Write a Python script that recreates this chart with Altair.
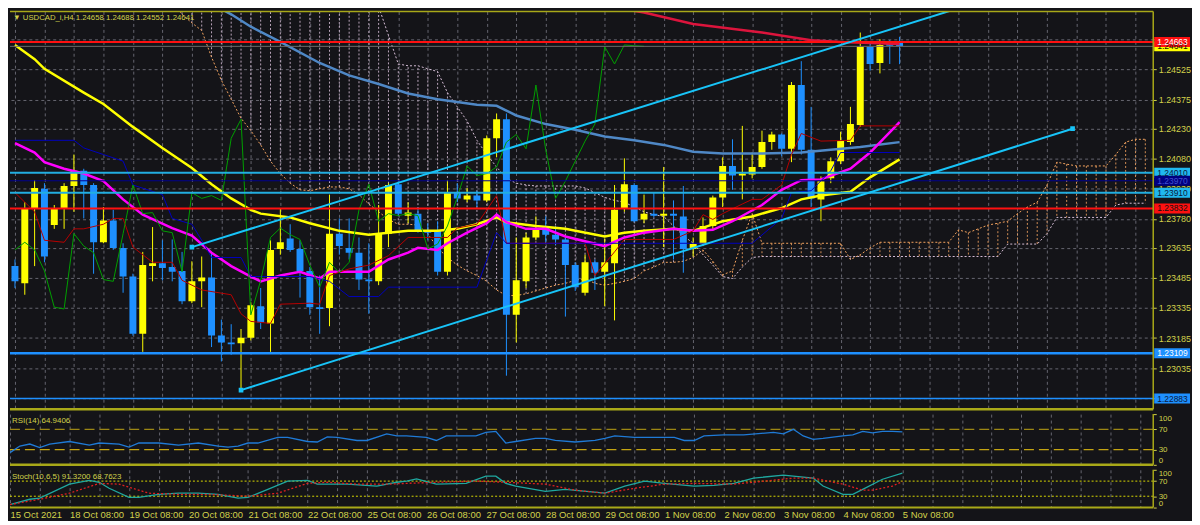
import json
import pandas as pd
import altair as alt

# ---------------- styling ----------------
BG = "#141418"
GRID = "#666670"
BORDER = "#a8a818"
TXT = "#d2d24b"
BULL = "#ffff00"
BEAR = "#1e90ff"
SANDY = "#f4a460"
THISTLE = "#d8bfd8"
CYAN_T = "#18c4f8"
CYAN_H = "#22aee0"
FONT = "Liberation Sans"

W = 1150
H_MAIN = 400
H_RSI = 51
H_ST = 38
X_MAX = 115.3

# ---------------- data ----------------
title_text = "\u25bc USDCAD_i,H4  1.24658 1.24688 1.24552 1.24641"
date_labels = ["15 Oct 2021", "18 Oct 08:00", "19 Oct 08:00", "20 Oct 08:00", "21 Oct 08:00",
               "22 Oct 08:00", "25 Oct 08:00", "26 Oct 08:00", "27 Oct 08:00", "28 Oct 08:00",
               "29 Oct 08:00", "1 Nov 08:00", "2 Nov 08:00", "3 Nov 08:00", "4 Nov 08:00", "5 Nov 08:00"]
price_ticks = [1.24675, 1.24525, 1.24375, 1.24230, 1.24080, 1.23930, 1.23780, 1.23635,
               1.23485, 1.23335, 1.23185, 1.23035, 1.22885]
hidden_tick_labels = [1.24675, 1.22885]   # covered by the line-label boxes in the original

bar_index = list(range(91))
opens = [1.23544, 1.23458, 1.23830, 1.23930, 1.23749, 1.23834, 1.23944, 1.24020, 1.23949, 1.23663,
         1.23772, 1.23635, 1.23492, 1.23206, 1.23544, 1.23558, 1.23539, 1.23520, 1.23368, 1.23468,
         1.23487, 1.23197, 1.23163, 1.23159, 1.23187, 1.23344, 1.23258, 1.23630, 1.23682, 1.23630,
         1.23520, 1.23339, 1.23335, 1.23706, 1.23635, 1.23611, 1.23477, 1.23468, 1.23706, 1.23953,
         1.23796, 1.23806, 1.23720, 1.23720, 1.23516, 1.23911, 1.23877, 1.23896, 1.23872, 1.24182,
         1.24277, 1.23301, 1.23468, 1.23687, 1.23739, 1.23701, 1.23677, 1.23549, 1.23411, 1.23563,
         1.23516, 1.23558, 1.23834, 1.23949, 1.23777, 1.23806, 1.23796, 1.23806, 1.23792, 1.23630,
         1.23654, 1.23744, 1.23887, 1.24044, 1.23996, 1.24001, 1.24039, 1.24163, 1.24201, 1.24130,
         1.24448, 1.24125, 1.23877, 1.23982, 1.24068, 1.24163, 1.24249, 1.24639, 1.24558, 1.24653,
         1.24658]
highs = [1.23577, 1.23863, 1.23973, 1.23958, 1.23849, 1.23958, 1.24101, 1.24030, 1.23958, 1.23839,
         1.23825, 1.23658, 1.23506, 1.23615, 1.23739, 1.23673, 1.23677, 1.23615, 1.23568, 1.23592,
         1.23611, 1.23277, 1.23254, 1.23230, 1.23363, 1.23435, 1.23673, 1.23830, 1.23753, 1.23673,
         1.23539, 1.23497, 1.23901, 1.23782, 1.23782, 1.23687, 1.23658, 1.23849, 1.23958, 1.23968,
         1.23863, 1.23839, 1.23758, 1.23768, 1.23973, 1.23958, 1.23934, 1.23920, 1.24196, 1.24306,
         1.24306, 1.23687, 1.23711, 1.23792, 1.23792, 1.23744, 1.23687, 1.23563, 1.23601, 1.23577,
         1.23682, 1.23949, 1.24082, 1.23958, 1.23901, 1.23911, 1.24039, 1.23872, 1.23944, 1.23687,
         1.23787, 1.23896, 1.24087, 1.24177, 1.24244, 1.24111, 1.24220, 1.24215, 1.24206, 1.24463,
         1.24567, 1.24339, 1.23992, 1.24087, 1.24215, 1.24339, 1.24710, 1.24663, 1.24677, 1.24672,
         1.24688]
lows = [1.23435, 1.23401, 1.23544, 1.23563, 1.23730, 1.23730, 1.23815, 1.23782, 1.23506, 1.23658,
        1.23625, 1.23411, 1.23197, 1.23116, 1.23468, 1.23473, 1.23468, 1.23354, 1.23359, 1.23339,
        1.23140, 1.23068, 1.23101, 1.22925, 1.23173, 1.23230, 1.23116, 1.23601, 1.23615, 1.23387,
        1.23301, 1.23206, 1.23244, 1.23601, 1.23577, 1.23425, 1.23306, 1.23449, 1.23639, 1.23796,
        1.23758, 1.23711, 1.23673, 1.23497, 1.23497, 1.23863, 1.23863, 1.23839, 1.23863, 1.24087,
        1.22997, 1.23163, 1.23435, 1.23673, 1.23663, 1.23649, 1.23292, 1.23420, 1.23397, 1.23425,
        1.23344, 1.23273, 1.23815, 1.23763, 1.23758, 1.23787, 1.23639, 1.23577, 1.23511, 1.23592,
        1.23644, 1.23730, 1.23839, 1.23925, 1.23877, 1.23982, 1.24030, 1.24125, 1.24092, 1.24063,
        1.24101, 1.23839, 1.23768, 1.23958, 1.24053, 1.24149, 1.24239, 1.24520, 1.24506, 1.24553,
        1.24552]
closes = [1.23468, 1.23830, 1.23934, 1.23592, 1.23830, 1.23944, 1.24020, 1.23949, 1.23663, 1.23772,
          1.23635, 1.23492, 1.23206, 1.23549, 1.23558, 1.23535, 1.23516, 1.23368, 1.23468, 1.23487,
          1.23197, 1.23163, 1.23154, 1.23187, 1.23349, 1.23263, 1.23625, 1.23663, 1.23625, 1.23520,
          1.23339, 1.23330, 1.23706, 1.23644, 1.23611, 1.23477, 1.23468, 1.23706, 1.23949, 1.23806,
          1.23811, 1.23720, 1.23711, 1.23516, 1.23911, 1.23882, 1.23896, 1.23872, 1.24182, 1.24277,
          1.23301, 1.23473, 1.23687, 1.23734, 1.23701, 1.23677, 1.23549, 1.23439, 1.23563, 1.23511,
          1.23563, 1.23825, 1.23953, 1.23768, 1.23806, 1.23796, 1.23806, 1.23796, 1.23630, 1.23654,
          1.23744, 1.23887, 1.24044, 1.23996, 1.24006, 1.24039, 1.24163, 1.24201, 1.24130, 1.24448,
          1.24125, 1.23882, 1.23968, 1.24068, 1.24168, 1.24253, 1.24639, 1.24553, 1.24648, 1.24644,
          1.24641]

# moving averages (bar index, price)
yellow_i = [0, 2, 3, 7, 9, 12, 15, 18, 20, 22, 24, 25, 28, 30, 33, 36, 38, 40, 43, 45,
            47, 49, 50, 53, 56, 60, 62, 64, 67, 69, 72, 75, 78, 80, 82, 85, 87, 90]
yellow_v = [1.24648, 1.24577, 1.24529, 1.24410, 1.24353, 1.24239, 1.24134, 1.24034, 1.23953, 1.23882,
            1.23825, 1.23806, 1.23787, 1.23758, 1.23720, 1.23701, 1.23711, 1.23720, 1.23720, 1.23730,
            1.23753, 1.23787, 1.23763, 1.23744, 1.23730, 1.23692, 1.23711, 1.23720, 1.23730, 1.23720,
            1.23768, 1.23792, 1.23834, 1.23877, 1.23896, 1.23915, 1.23987, 1.24077]
magenta_i = [0, 2, 3, 5, 7, 9, 11, 13, 16, 18, 20, 22, 24, 25, 27, 29, 31, 32, 36, 38,
             40, 41, 43, 44, 46, 48, 49, 50, 52, 54, 56, 60, 62, 64, 67, 69, 71, 73, 76, 78,
             80, 82, 85, 87, 90]
magenta_v = [1.24158, 1.24111, 1.24063, 1.24030, 1.24006, 1.23968, 1.23877, 1.23801, 1.23734, 1.23696,
             1.23611, 1.23544, 1.23492, 1.23468, 1.23497, 1.23516, 1.23482, 1.23516, 1.23516, 1.23577,
             1.23611, 1.23635, 1.23625, 1.23658, 1.23711, 1.23758, 1.23801, 1.23763, 1.23730, 1.23730,
             1.23692, 1.23644, 1.23687, 1.23711, 1.23730, 1.23720, 1.23725, 1.23768, 1.23849, 1.23925,
             1.23973, 1.23977, 1.24030, 1.24111, 1.24263]
steel_i = [20, 22, 24, 27, 31, 34, 37, 40, 43, 47, 49, 51, 54, 57, 60, 63, 66, 69, 72, 76, 80, 83, 86, 90]
steel_v = [1.24853, 1.24801, 1.24739, 1.24663, 1.24558, 1.24496, 1.24453, 1.24406, 1.24377, 1.24349,
           1.24344, 1.24296, 1.24253, 1.24225, 1.24191, 1.24172, 1.24149, 1.24115, 1.24106, 1.24106,
           1.24111, 1.24125, 1.24139, 1.24163]
redma_i = [61, 64, 69, 76, 81, 84, 90]
redma_v = [1.24834, 1.24810, 1.24753, 1.24710, 1.24672, 1.24663, 1.24653]

# Ichimoku
tenkan_i = [0, 1, 2, 3, 5, 6, 7, 9, 10, 11, 12, 14, 16, 17, 19, 22, 23, 24, 26, 27,
            30, 31, 32, 34, 36, 38, 40, 44, 45, 47, 49, 50, 58, 59, 61, 62, 67, 69, 70, 71,
            72, 74, 75, 76, 78, 79, 80, 82, 85, 86, 90]
tenkan_v = [1.23911, 1.23863, 1.23815, 1.23673, 1.23663, 1.23730, 1.23730, 1.23753, 1.23782, 1.23782,
            1.23639, 1.23563, 1.23563, 1.23473, 1.23425, 1.23401, 1.23306, 1.23268, 1.23258, 1.23354,
            1.23359, 1.23354, 1.23497, 1.23530, 1.23549, 1.23596, 1.23687, 1.23687, 1.23734, 1.23753,
            1.23896, 1.23658, 1.23658, 1.23497, 1.23615, 1.23677, 1.23677, 1.23720, 1.23801, 1.23777,
            1.23806, 1.23854, 1.23877, 1.23877, 1.23949, 1.24101, 1.24206, 1.24168, 1.24172, 1.24244,
            1.24244]
kijun_i = [0, 6, 7, 9, 11, 12, 15, 16, 18, 19, 20, 23, 24, 30, 32, 34, 37, 38, 47, 49,
           50, 75, 78, 79, 81, 83, 84, 90]
kijun_v = [1.24172, 1.24172, 1.24134, 1.24101, 1.24068, 1.23949, 1.23901, 1.23782, 1.23753, 1.23673,
           1.23587, 1.23587, 1.23492, 1.23492, 1.23468, 1.23392, 1.23392, 1.23439, 1.23439, 1.23711,
           1.23658, 1.23658, 1.23782, 1.23911, 1.23920, 1.24020, 1.24111, 1.24111]
cloud_i = list(range(16, 116))
span_a = [1.24863, 1.24801, 1.24758, 1.24720, 1.24587, 1.24472, 1.24377, 1.24282, 1.24220, 1.24149,
          1.24068, 1.24006, 1.23958, 1.23925, 1.23920, 1.23930, 1.23939, 1.23939, 1.23930, 1.23901,
          1.23854, 1.23815, 1.23777, 1.23753, 1.23753, 1.23749, 1.23706, 1.23635, 1.23587, 1.23549,
          1.23520, 1.23497, 1.23468, 1.23425, 1.23397, 1.23397, 1.23406, 1.23420, 1.23435, 1.23449,
          1.23458, 1.23473, 1.23482, 1.23458, 1.23449, 1.23458, 1.23468, 1.23482, 1.23520, 1.23539,
          1.23563, 1.23563, 1.23568, 1.23587, 1.23625, 1.23568, 1.23501, 1.23520, 1.23673, 1.23806,
          1.23658, 1.23658, 1.23658, 1.23658, 1.23658, 1.23658, 1.23658, 1.23658, 1.23658, 1.23577,
          1.23601, 1.23635, 1.23663, 1.23663, 1.23663, 1.23663, 1.23663, 1.23663, 1.23663, 1.23663,
          1.23725, 1.23711, 1.23730, 1.23749, 1.23758, 1.23768, 1.23806, 1.23839, 1.23863, 1.23949,
          1.24063, 1.24053, 1.24044, 1.24044, 1.24044, 1.24044, 1.24101, 1.24163, 1.24177, 1.24177]
span_b = [1.24910, 1.24910, 1.24910, 1.24910, 1.24910, 1.24910, 1.24910, 1.24910, 1.24910, 1.24910,
          1.24910, 1.24910, 1.24910, 1.24910, 1.24910, 1.24910, 1.24910, 1.24910, 1.24910, 1.24910,
          1.24910, 1.24839, 1.24696, 1.24553, 1.24544, 1.24544, 1.24529, 1.24515, 1.24410, 1.24339,
          1.24268, 1.24172, 1.24101, 1.24039, 1.23982, 1.23958, 1.23949, 1.23944, 1.23944, 1.23944,
          1.23944, 1.23944, 1.23934, 1.23911, 1.23887, 1.23872, 1.23863, 1.23839, 1.23815, 1.23801,
          1.23792, 1.23744, 1.23696, 1.23658, 1.23601, 1.23549, 1.23492, 1.23482, 1.23539, 1.23587,
          1.23592, 1.23592, 1.23592, 1.23592, 1.23592, 1.23592, 1.23592, 1.23592, 1.23592, 1.23592,
          1.23592, 1.23592, 1.23592, 1.23592, 1.23592, 1.23592, 1.23592, 1.23592, 1.23592, 1.23592,
          1.23592, 1.23592, 1.23592, 1.23592, 1.23592, 1.23654, 1.23654, 1.23654, 1.23654, 1.23706,
          1.23787, 1.23787, 1.23787, 1.23787, 1.23787, 1.23787, 1.23849, 1.23858, 1.23858, 1.23858]
CHIKOU_SHIFT = 26

# objects: horizontal levels, trend lines
hl_price = [1.24663, 1.24641, 1.24010, 1.23970, 1.23910, 1.23832, 1.23109, 1.22883]
hl_color = ["#ff1010", "#6c6c6c", CYAN_H, "#000090", CYAN_H, "#ff1010", "#1e90ff", "#1e90ff"]
hl_width = [2, 1, 2, 1, 2, 2, 2.5, 1.5]
lab_price = [1.24641, 1.24663, 1.24010, 1.23970, 1.23910, 1.23832, 1.23109, 1.22883]
lab_box = ["#ffff00", "#ff1010", "#20b8ee", "#000080", "#20b8ee", "#ff1010", "#1e90ff", "#1e90ff"]
lab_tc = ["#101010", "#ffffff", "#0a1a40", "#4050d0", "#0a1a40", "#101010", "#ffffff", "#0a1a40"]
trend_id = ["lower", "lower", "upper", "upper"]
trend_i = [23, 107.6, 18, 98]
trend_p = [1.22925, 1.24230, 1.23639, 1.24862]
anchor_i = [23, 107.6, 18]
anchor_p = [1.22925, 1.24230, 1.23639]

# oscillators
rsi_i = [0, 1, 2, 3, 4, 6, 8, 9, 11, 12, 13, 15, 17, 19, 21, 22, 23, 24, 25, 27, 28, 30, 31, 32, 33,
         35, 36, 38, 39, 40, 42, 43, 44, 47, 48, 49, 50, 51, 53, 54, 55, 57, 59, 60, 61, 63, 67, 68,
         69, 70, 72, 74, 77, 78, 79, 80, 81, 82, 84, 85, 86, 87, 88, 89, 90]
rsi_v = [24, 37, 41, 34, 41, 46, 39, 43, 41, 35, 43, 43, 39, 43, 37, 35, 37, 43, 43, 54, 54, 46, 45, 55, 54,
         48, 48, 61, 57, 57, 54, 48, 57, 57, 64, 66, 43, 46, 52, 52, 48, 45, 48, 52, 57, 54, 54, 48,
         48, 57, 59, 59, 64, 61, 70, 57, 50, 52, 57, 59, 66, 63, 66, 66, 64.94]
st_i = [0, 2, 3, 6, 8, 9, 10, 12, 13, 15, 17, 19, 21, 23, 24, 26, 28, 30, 31, 34, 37, 39, 40, 41, 43,
        46, 48, 49, 50, 51, 54, 56, 60, 62, 64, 66, 69, 71, 73, 75, 78, 79, 81, 82, 84, 85, 86, 88, 90]
st_v = [8, 22, 25, 62, 72, 67, 51, 27, 27, 35, 38, 38, 35, 25, 27, 48, 70, 72, 62, 62, 57, 67, 70, 76, 62,
        64, 83, 83, 64, 57, 43, 48, 38, 57, 70, 64, 57, 59, 64, 78, 86, 83, 78, 57, 35, 35, 48, 75, 91.32]
sg_i = [0, 3, 6, 9, 11, 14, 17, 20, 24, 27, 30, 32, 35, 38, 40, 43, 47, 50, 54, 57, 60, 63, 66, 69, 73,
        75, 79, 81, 84, 86, 87, 89, 90]
sg_v = [8, 22, 38, 64, 62, 38, 35, 35, 30, 38, 64, 67, 62, 62, 64, 67, 70, 67, 62, 46, 38, 51, 62, 64, 62,
        67, 78, 78, 62, 46, 46, 57, 68.76]
rsi_title = "RSI(14) 64.9406"
st_title = "Stoch(10,6,5) 91.3200 68.7623"

# ---------------- scales / axes ----------------
grid_x = list(range(0, 115, 3))
xs = alt.Scale(domain=[0, X_MAX], nice=False, zero=False)
ax_x_grid = alt.Axis(values=grid_x, grid=True, gridColor=GRID, gridDash=[3, 3], gridWidth=1,
                     labels=False, ticks=False, domain=False, title=None, zindex=0)
label_expr = ("datum.value % 6 == 0 && datum.value <= 90 ? " + json.dumps(date_labels)
              + "[datum.value / 6] : ''")
ax_x_dates = alt.Axis(values=grid_x, grid=True, gridColor=GRID, gridDash=[3, 3], gridWidth=1,
                      labels=True, labelExpr=label_expr, labelAlign="left", labelBaseline="top",
                      labelPadding=2, labelColor=TXT, labelFont=FONT, labelFontSize=9.5,
                      labelOverlap=False, labelFlush=False, labelBound=False,
                      ticks=False, domain=False, title=None, zindex=0)
hide_expr = " || ".join("abs(datum.value - %.5f) < 0.000001" % v for v in hidden_tick_labels)
ys_main = alt.Scale(domain=[1.22830, 1.24815], nice=False, zero=False)
ax_y_main = alt.Axis(orient="right", values=price_ticks, format=".5f", grid=True, gridColor=GRID,
                     gridDash=[3, 3], gridWidth=1, domain=False, ticks=True, tickSize=3, tickColor=TXT,
                     labelExpr="(" + hide_expr + ") ? '' : datum.label",
                     labelColor=TXT, labelFont=FONT, labelFontSize=9, labelPadding=2,
                     labelOverlap=False, labelFlush=False, title=None, zindex=0)
ys_osc = alt.Scale(domain=[0, 100], nice=False, zero=False)
ax_y_osc = alt.Axis(orient="right", values=[0, 30, 70, 100], grid=False, domain=False, ticks=True,
                    tickSize=3, tickColor=TXT, labelColor=TXT, labelFont=FONT, labelFontSize=8,
                    labelPadding=2, labelFlush=True, labelOverlap=False, title=None, zindex=0)


def MX(f="i"):
    return alt.X(f + ":Q", scale=xs, axis=ax_x_grid)


def MY(f):
    return alt.Y(f + ":Q", scale=ys_main, axis=ax_y_main)


one = pd.DataFrame({"k": [0]})


def hrule(y, width):
    return alt.Chart(one).mark_rule(color=BORDER, strokeWidth=width).encode(
        x=alt.value(0), x2=alt.value(W), y=alt.value(y))


def vrule(h):
    return alt.Chart(one).mark_rule(color=BORDER, strokeWidth=1.5).encode(
        x=alt.value(W), y=alt.value(0), y2=alt.value(h))


def price_line(i_list, v_list, color, width, dash=None):
    df = pd.DataFrame({"i": i_list, "price": v_list})
    kw = dict(color=color, strokeWidth=width, clip=True)
    if dash:
        kw["strokeDash"] = dash
    return alt.Chart(df).mark_line(**kw).encode(x=MX(), y=MY("price"))


# ---------------- main panel ----------------
cloud = pd.DataFrame({"i": cloud_i, "a": span_a, "b": span_b})
cloud["hc"] = [SANDY if a > b else THISTLE for a, b in zip(span_a, span_b)]
hatch = alt.Chart(cloud).mark_rule(strokeWidth=1, strokeDash=[2, 2], opacity=0.85, clip=True).encode(
    x=MX(), y=MY("a"), y2="b", color=alt.Color("hc:N", scale=None))
span_a_line = price_line(cloud_i, span_a, SANDY, 1, [2, 2])
span_b_line = price_line(cloud_i, span_b, THISTLE, 1, [2, 2])

cd = pd.DataFrame({"i": bar_index, "open": opens, "high": highs, "low": lows, "close": closes})
cd["c"] = [BULL if c >= o else BEAR for o, c in zip(opens, closes)]
wicks = alt.Chart(cd).mark_rule(strokeWidth=1, clip=True).encode(
    x=MX(), y=MY("low"), y2="high", color=alt.Color("c:N", scale=None))
bodies = alt.Chart(cd).mark_bar(width=7, clip=True).encode(
    x=MX(), y=MY("open"), y2="close", color=alt.Color("c:N", scale=None))

chikou_i = bar_index[:len(closes) - CHIKOU_SHIFT]
chikou_v = closes[CHIKOU_SHIFT:]

lines = [
    price_line(steel_i, steel_v, "#4f88c6", 2.5),
    price_line(redma_i, redma_v, "#dc143c", 2.5),
    price_line(yellow_i, yellow_v, "#ffff00", 2.5),
    price_line(magenta_i, magenta_v, "#ff00ff", 2.5),
    price_line(tenkan_i, tenkan_v, "#b80000", 1),
    price_line(kijun_i, kijun_v, "#0000c0", 1),
    price_line(chikou_i, chikou_v, "#00a000", 1),
]

hl = pd.DataFrame({"price": hl_price, "c": hl_color, "w": hl_width})
hlines = alt.Chart(hl).mark_rule(clip=True).encode(
    y=MY("price"), color=alt.Color("c:N", scale=None),
    strokeWidth=alt.StrokeWidth("w:Q", scale=None))

tl = pd.DataFrame({"id": trend_id, "i": trend_i, "price": trend_p})
trend = alt.Chart(tl).mark_line(color=CYAN_T, strokeWidth=2, clip=True).encode(
    x=MX(), y=MY("price"), detail="id:N")
anchors = alt.Chart(pd.DataFrame({"i": anchor_i, "price": anchor_p})).mark_square(
    color=CYAN_T, size=22, opacity=1, clip=True).encode(x=MX(), y=MY("price"))

lab = pd.DataFrame({"price": lab_price, "t": ["%.5f" % p for p in lab_price],
                    "bc": lab_box, "tc": lab_tc})
boxes = alt.Chart(lab).mark_rect(yOffset=-5, y2Offset=5, clip=False).encode(
    x=alt.value(W + 1), x2=alt.value(W + 37), y=MY("price"), y2="price",
    color=alt.Color("bc:N", scale=None))
box_text = alt.Chart(lab).mark_text(align="left", baseline="middle", font=FONT, fontSize=8.5,
                                    clip=False).encode(
    x=alt.value(W + 4), y=MY("price"), text="t:N", color=alt.Color("tc:N", scale=None))

title = alt.Chart(pd.DataFrame({"t": [title_text]})).mark_text(
    align="left", baseline="middle", font=FONT, fontSize=7.8, color=TXT).encode(
    x=alt.value(3), y=alt.value(7), text="t:N")

main = alt.layer(
    hatch, span_a_line, span_b_line, wicks, bodies, *lines, hlines, trend, anchors,
    boxes, box_text, title, hrule(0, 1.5), hrule(H_MAIN, 2.5), vrule(H_MAIN)
).properties(width=W, height=H_MAIN)

# ---------------- RSI panel ----------------
rsi_df = pd.DataFrame({"i": rsi_i, "v": rsi_v})
rsi_line = alt.Chart(rsi_df).mark_line(color="#1f7ad6", strokeWidth=1.3, clip=True).encode(
    x=alt.X("i:Q", scale=xs, axis=ax_x_grid), y=alt.Y("v:Q", scale=ys_osc, axis=ax_y_osc))
rsi_lv = alt.Chart(pd.DataFrame({"v": [70, 30], "c": ["#9c8614", "#c4a412"]})).mark_rule(
    strokeDash=[10, 5], strokeWidth=1.3).encode(
    y=alt.Y("v:Q", scale=ys_osc, axis=ax_y_osc), color=alt.Color("c:N", scale=None))
rsi_txt = alt.Chart(pd.DataFrame({"t": [rsi_title]})).mark_text(
    align="left", baseline="middle", font=FONT, fontSize=8, color=TXT).encode(
    x=alt.value(2), y=alt.value(7), text="t:N")
rsi = alt.layer(rsi_lv, rsi_line, rsi_txt, hrule(H_RSI, 2.5), vrule(H_RSI)).properties(
    width=W, height=H_RSI)

# ---------------- Stochastic panel ----------------
st_main = alt.Chart(pd.DataFrame({"i": st_i, "v": st_v})).mark_line(
    color="#1fa8a0", strokeWidth=1.3, clip=True).encode(
    x=alt.X("i:Q", scale=xs, axis=ax_x_dates), y=alt.Y("v:Q", scale=ys_osc, axis=ax_y_osc))
st_sig = alt.Chart(pd.DataFrame({"i": sg_i, "v": sg_v})).mark_line(
    color="#e02020", strokeWidth=1.3, strokeDash=[2, 2], clip=True).encode(
    x=alt.X("i:Q", scale=xs, axis=ax_x_dates), y=alt.Y("v:Q", scale=ys_osc, axis=ax_y_osc))
st_lv = alt.Chart(pd.DataFrame({"v": [70, 30]})).mark_rule(
    color="#d8d800", strokeDash=[2, 2], strokeWidth=1).encode(
    y=alt.Y("v:Q", scale=ys_osc, axis=ax_y_osc))
st_txt = alt.Chart(pd.DataFrame({"t": [st_title]})).mark_text(
    align="left", baseline="middle", font=FONT, fontSize=8, color=TXT).encode(
    x=alt.value(2), y=alt.value(7), text="t:N")
stoch = alt.layer(st_lv, st_main, st_sig, st_txt, hrule(H_ST, 2), vrule(H_ST)).properties(
    width=W, height=H_ST)

chart = alt.vconcat(main, rsi, stoch, spacing=1).properties(
    background=BG, padding=0).configure_view(stroke="transparent")

chart.save("out.html", embed_options={"renderer": "svg", "actions": False})
